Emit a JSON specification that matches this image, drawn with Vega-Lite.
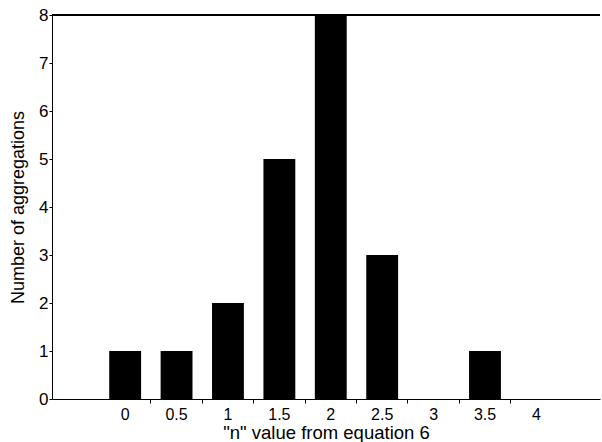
{
  "$schema": "https://vega.github.io/schema/vega-lite/v6.json",
  "width": 548,
  "height": 384,
  "autosize": {"type": "none"},
  "padding": {"left": 52, "top": 15, "right": 2, "bottom": 43},
  "background": "white",
  "config": {
    "view": {"stroke": null},
    "font": "Liberation Sans",
    "axis": {"grid": false, "domainColor": "black", "tickColor": "black", "labelColor": "black", "titleColor": "black", "labelFont": "Liberation Sans", "titleFont": "Liberation Sans", "titleFontWeight": "normal"}
  },
  "data": {
    "values": [
      {"n": "0", "count": 1},
      {"n": "0.5", "count": 1},
      {"n": "1", "count": 2},
      {"n": "1.5", "count": 5},
      {"n": "2", "count": 8},
      {"n": "2.5", "count": 3},
      {"n": "3", "count": 0},
      {"n": "3.5", "count": 1},
      {"n": "4", "count": 0}
    ]
  },
  "layer": [
    {
      "mark": {"type": "bar", "color": "black", "width": {"band": 0.62}},
      "encoding": {
        "x": {
          "field": "n",
          "type": "ordinal",
          "sort": null,
          "scale": {"paddingInner": 0, "paddingOuter": 0.83, "align": 0.556},
          "axis": {
            "title": "\"n\" value from equation 6",
            "labelAngle": 0,
            "labelFontSize": 16,
            "titleFontSize": 18.5,
            "tickSize": 4,
            "labelPadding": 3,
            "titlePadding": 1,
            "bandPosition": 0,
            "tickOpacity": {"condition": {"test": "datum.value === '0'", "value": 0}, "value": 1},
            "domainWidth": 1,
            "tickWidth": 1
          }
        },
        "y": {
          "field": "count",
          "type": "quantitative",
          "scale": {"domain": [0, 8], "nice": false},
          "axis": {
            "title": "Number of aggregations",
            "values": [0, 1, 2, 3, 4, 5, 6, 7, 8],
            "labelFontSize": 17,
            "titleFontSize": 18,
            "tickSize": 3,
            "labelPadding": 1,
            "titlePadding": 11,
            "domainWidth": 1,
            "tickWidth": 1
          }
        }
      }
    },
    {
      "mark": {"type": "rule", "color": "black", "strokeWidth": 1.5},
      "encoding": {"y": {"datum": 8}}
    }
  ]
}
